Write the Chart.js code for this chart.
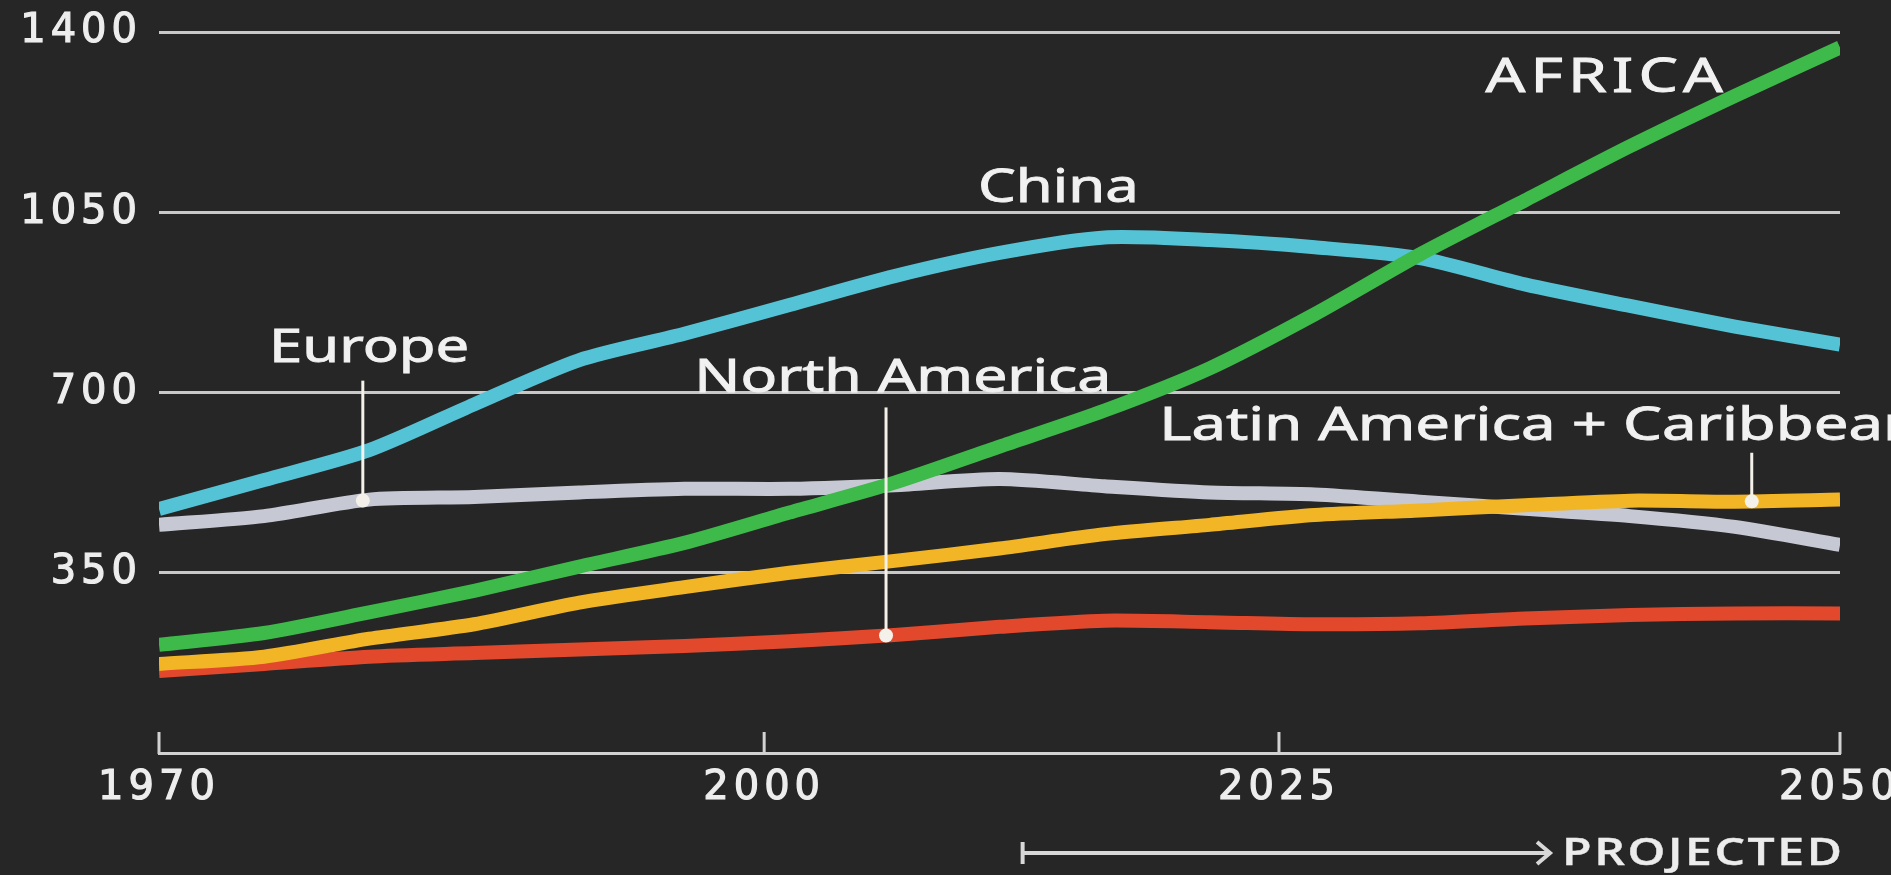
<!DOCTYPE html>
<html>
<head>
<meta charset="utf-8">
<script src="https://cdn.jsdelivr.net/npm/chart.js@4.4.1/dist/chart.umd.min.js"></script>
<style>
    html, body { margin: 0; padding: 0; background: #262626; overflow: hidden; }
    canvas { display: block; }
</style>
</head>
<body>
<canvas id="populationChart" width="1891" height="875"></canvas>
<script>
const years = [1970, 1975, 1980, 1985, 1990, 1995, 2000, 2005, 2010, 2015, 2020, 2025, 2030, 2035, 2040, 2045, 2050];
const africa = [210, 233, 273, 315, 362, 408, 467, 525, 595, 665, 747, 852, 968, 1073, 1178, 1276, 1370];
const china = [474, 530, 588, 677, 763, 814, 870, 926, 971, 1001, 996, 982, 961, 910, 868, 828, 793];
const europe = [443, 460, 492, 497, 506, 513, 513, 520, 532, 518, 506, 502, 488, 474, 460, 439, 404];
const latinAmerica = [173, 187, 222, 250, 292, 322, 350, 373, 397, 425, 443, 462, 471, 481, 490, 488, 492];
const northAmerica = [159, 173, 187, 194, 201, 208, 217, 229, 245, 257, 254, 250, 252, 261, 268, 271, 271];

const yTicks = [350, 700, 1050, 1400];
const xTickLabels = ['1970', '2000', '2025', '2050'];
// the original graphic doesn't space its year ticks evenly, so they sit where it draws them
const xTickYears = [1970, 1998.8, 2023.3, 2050];
const projectedFrom = 2011.1;
const projectedTo = 2036.2;

const series = [
    { label: 'Africa', values: africa, color: '#3dba4a', order: 0 },
    { label: 'Latin America + Caribbean', values: latinAmerica, color: '#f2b526', order: 1 },
    { label: 'North America', values: northAmerica, color: '#e2482c', order: 2 },
    { label: 'China', values: china, color: '#55c3d6', order: 3 },
    { label: 'Europe', values: europe, color: '#c6c9d3', order: 4 }
];

// text labels, anchored in data units (year, millions)
const labels = [
    { text: 'AFRICA', year: 2038.9, value: 1310, align: 'center', size: 48, sx: 1.3, spacing: 4 },
    { text: 'China', year: 2012.8, value: 1096, align: 'center', size: 46, sx: 1.3, spacing: 0 },
    { text: 'Europe', year: 1980.0, value: 785, align: 'center', size: 46, sx: 1.3, spacing: 0 },
    { text: 'North America', year: 2005.4, value: 727, align: 'center', size: 46, sx: 1.32, spacing: 0 },
    { text: 'Latin America + Caribbean', year: 2017.6, value: 633, align: 'left', size: 46, sx: 1.34, spacing: 0 }
];

// leader lines from a label down to a dot on its line
const pointers = [
    { values: europe, year: 1979.7, top: 723 },
    { values: northAmerica, year: 2004.6, top: 671 },
    { values: latinAmerica, year: 2045.8, top: 583 }
];

function valueAt(values, year) {
    for (let i = 0; i < years.length - 1; i++) {
        if (year >= years[i] && year <= years[i + 1]) {
            const t = (year - years[i]) / (years[i + 1] - years[i]);
            return values[i] + t * (values[i + 1] - values[i]);
        }
    }
    return values[values.length - 1];
}

function drawText(ctx, text, x, y, opt) {
    ctx.save();
    ctx.font = opt.font;
    ctx.fillStyle = opt.color || '#f1f1f1';
    ctx.strokeStyle = opt.color || '#f1f1f1';
    ctx.lineWidth = opt.stroke || 0;
    ctx.textBaseline = 'middle';
    ctx.textAlign = 'left';
    if ('letterSpacing' in ctx) ctx.letterSpacing = (opt.spacing || 0) + 'px';
    const sx = opt.sx || 1;
    const w = ctx.measureText(text).width * sx;
    const left = opt.align === 'center' ? x - w / 2 : x;
    ctx.translate(left, y);
    ctx.scale(sx, 1);
    ctx.fillText(text, 0, 0);
    if (opt.stroke) ctx.strokeText(text, 0, 0);
    ctx.restore();
}

const backgroundPlugin = {
    id: 'background',
    beforeDraw(chart) {
        const ctx = chart.ctx;
        ctx.save();
        ctx.fillStyle = '#262626';
        ctx.fillRect(0, 0, chart.width, chart.height);
        ctx.restore();
        // wide tick lettering like the original
        if ('letterSpacing' in ctx) ctx.letterSpacing = '5px';
    }
};

const annotationPlugin = {
    id: 'annotations',
    afterDatasetsDraw(chart) {
        const ctx = chart.ctx;
        const x = chart.scales.x;
        const y = chart.scales.y;

        pointers.forEach(p => {
            const px = x.getPixelForValue(p.year);
            const top = y.getPixelForValue(p.top);
            const dot = y.getPixelForValue(valueAt(p.values, p.year));
            ctx.save();
            ctx.strokeStyle = '#f4f1ea';
            ctx.lineWidth = 3;
            ctx.beginPath();
            ctx.moveTo(px, top);
            ctx.lineTo(px, dot);
            ctx.stroke();
            ctx.fillStyle = '#f4f1ea';
            ctx.beginPath();
            ctx.arc(px, dot, 7, 0, Math.PI * 2);
            ctx.fill();
            ctx.restore();
        });

        labels.forEach(l => {
            drawText(ctx, l.text, x.getPixelForValue(l.year), y.getPixelForValue(l.value), {
                font: l.size + 'px "Noto Sans", sans-serif',
                align: l.align,
                sx: l.sx,
                spacing: l.spacing,
                stroke: 0.9
            });
        });
    },
    afterDraw(chart) {
        const ctx = chart.ctx;
        const x = chart.scales.x;
        const area = chart.chartArea;

        // year tick marks point up from the axis
        ctx.save();
        ctx.strokeStyle = '#d2d2d2';
        ctx.lineWidth = 3;
        xTickYears.forEach(v => {
            const px = x.getPixelForValue(v);
            ctx.beginPath();
            ctx.moveTo(px, area.bottom + 1);
            ctx.lineTo(px, area.bottom - 21);
            ctx.stroke();
        });

        // projected bracket
        const x0 = x.getPixelForValue(projectedFrom);
        const x1 = x.getPixelForValue(projectedTo);
        const py = area.bottom + 100;
        ctx.strokeStyle = '#d8d8d8';
        ctx.lineWidth = 4;
        ctx.beginPath();
        ctx.moveTo(x0, py - 11);
        ctx.lineTo(x0, py + 11);
        ctx.moveTo(x0, py);
        ctx.lineTo(x1, py);
        ctx.moveTo(x1 - 13, py - 11);
        ctx.lineTo(x1, py);
        ctx.lineTo(x1 - 13, py + 11);
        ctx.stroke();
        ctx.restore();

        drawText(ctx, 'PROJECTED', x1 + 12, py + 1, {
            font: '600 37px "Open Sans", sans-serif',
            color: '#ececec',
            sx: 1.3,
            spacing: 2,
            stroke: 0.4
        });
    }
};

const ctx = document.getElementById('populationChart');

new Chart(ctx, {
    type: 'line',
    data: {
        datasets: series.map(s => ({
            label: s.label,
            data: years.map((yr, i) => ({ x: yr, y: s.values[i] })),
            borderColor: s.color,
            backgroundColor: s.color,
            borderWidth: 14,
            pointRadius: 0,
            tension: 0.25,
            borderCapStyle: 'butt',
            borderJoinStyle: 'round',
            order: s.order
        }))
    },
    options: {
        responsive: false,
        animation: false,
        devicePixelRatio: 1,
        layout: {
            padding: { top: 32, right: 51, left: 0, bottom: 0 }
        },
        plugins: {
            legend: { display: false },
            tooltip: { enabled: false }
        },
        scales: {
            x: {
                type: 'linear',
                min: 1970,
                max: 2050,
                afterBuildTicks: scale => {
                    scale.ticks = xTickYears.map(v => ({ value: v }));
                },
                afterFit: scale => {
                    scale.height = 122;
                    scale.paddingLeft = 0;
                    scale.paddingRight = 0;
                },
                grid: { display: false, drawTicks: false },
                border: { display: true, color: '#d2d2d2', width: 3 },
                ticks: {
                    autoSkip: false,
                    maxRotation: 0,
                    padding: 12,
                    color: '#ededed',
                    textStrokeColor: '#ededed',
                    textStrokeWidth: 1.2,
                    font: { family: '"DejaVu Sans", sans-serif', size: 40 },
                    callback: (value, index) => xTickLabels[index]
                }
            },
            y: {
                min: 0,
                max: 1400,
                afterBuildTicks: scale => {
                    scale.ticks = yTicks.map(v => ({ value: v }));
                },
                afterFit: scale => {
                    scale.width = 159;
                    scale.paddingTop = 0;
                    scale.paddingBottom = 0;
                },
                grid: { color: '#c8c8c8', lineWidth: 3, drawTicks: false },
                border: { display: false },
                ticks: {
                    padding: 17,
                    color: '#ededed',
                    textStrokeColor: '#ededed',
                    textStrokeWidth: 1.2,
                    font: { family: '"DejaVu Sans", sans-serif', size: 40 },
                    callback: value => String(value)
                }
            }
        }
    },
    plugins: [backgroundPlugin, annotationPlugin]
});
</script>
</body>
</html>
